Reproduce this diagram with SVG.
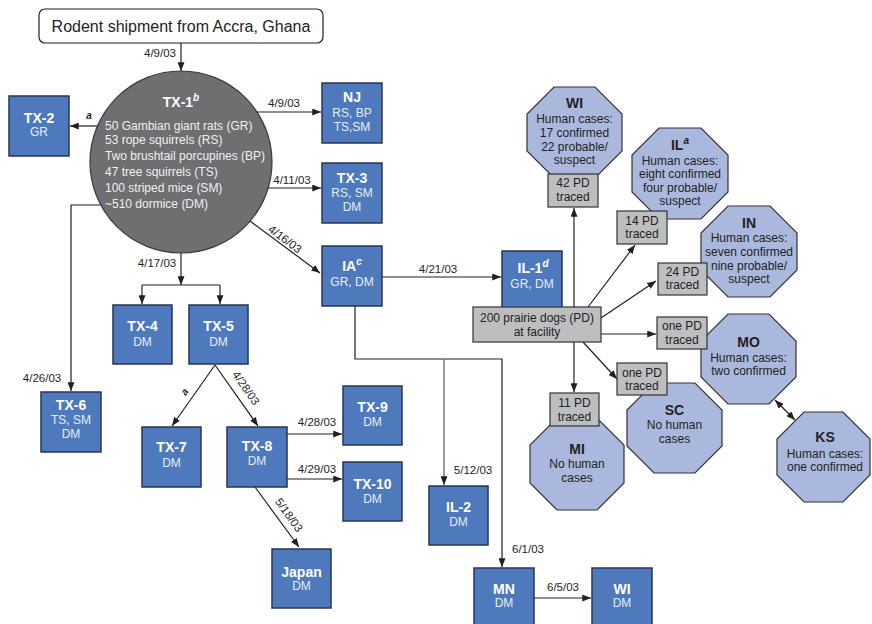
<svg xmlns="http://www.w3.org/2000/svg" width="872" height="624" viewBox="0 0 872 624">
<defs>
<marker id="arr" viewBox="0 0 10 8" refX="10" refY="4" markerWidth="9" markerHeight="7" markerUnits="userSpaceOnUse" orient="auto-start-reverse">
<path d="M0,0 L10,4 L0,8 z" fill="#231f20"/>
</marker>
<style>
text{font-family:"Liberation Sans",Arial,sans-serif;}
.ln{fill:none;stroke:#231f20;stroke-width:1.2;}
.lg{fill:none;stroke:#707070;stroke-width:1.4;}
.ar{marker-end:url(#arr);}
.box{fill:#4e7abd;stroke:#2a3550;stroke-width:1.5;}
.oct{fill:#aab8de;stroke:#333;stroke-width:1.2;}
.gbox{fill:#bcbec0;stroke:#333;stroke-width:1.2;}
.bt{fill:#fff;font-size:14px;font-weight:bold;text-anchor:middle;}
.bs{fill:#e6ecf6;font-size:12px;text-anchor:middle;}
.ot{fill:#231f20;font-size:14px;font-weight:bold;text-anchor:middle;}
.os{fill:#231f20;font-size:12px;text-anchor:middle;}
.dt{fill:#231f20;font-size:11.5px;text-anchor:middle;}
.sup{font-size:10px;font-style:italic;font-weight:bold;}
.cl{fill:#f0f0f0;font-size:12px;}
</style>
</defs>
<rect width="872" height="624" fill="#fff"/>

<g id="connectors">
<path class="ln ar" d="M181,43 V71"/>
<text class="dt" x="160" y="57">4/9/03</text>
<path class="ln ar" d="M100,126 H70"/>
<text class="dt sup" x="89" y="119">a</text>
<path class="ln ar" d="M257,112 H321"/>
<text class="dt" x="284" y="107">4/9/03</text>
<path class="ln ar" d="M268,188 H321"/>
<text class="dt" x="292" y="184">4/11/03</text>
<path class="ln ar" d="M250,221 L320,273"/>
<text class="dt" transform="translate(285,239) rotate(37)" y="4">4/16/03</text>
<path class="ln ar" d="M181,253 V285"/>
<path class="ln" d="M142,285 H220"/>
<path class="ln ar" d="M142,285 V304"/>
<path class="ln ar" d="M220,285 V304"/>
<text class="dt" x="157" y="267">4/17/03</text>
<path class="ln ar" d="M101,205 H71 V391"/>
<text class="dt" x="42" y="382">4/26/03</text>
<path class="ln ar" d="M215,365 L172,426"/>
<text class="dt sup" transform="translate(185,392) rotate(-55)" y="3">a</text>
<path class="ln ar" d="M215,365 L258,426"/>
<text class="dt" transform="translate(246,388) rotate(55)" y="4">4/28/03</text>
<path class="ln ar" d="M287,434 H342"/>
<text class="dt" x="317" y="426">4/28/03</text>
<path class="ln ar" d="M287,479 H342"/>
<text class="dt" x="317" y="473">4/29/03</text>
<path class="ln ar" d="M255,487 L299,547"/>
<text class="dt" transform="translate(289,515) rotate(54)" y="4">5/18/03</text>
<path class="ln ar" d="M382,277 H501"/>
<text class="dt" x="438" y="273">4/21/03</text>
<path class="ln ar" d="M355,306 V359 H502 V567"/>
<path class="lg ar" d="M444,359 V485"/>
<text class="dt" x="473" y="474">5/12/03</text>
<path class="ln ar" d="M534,598 H591"/>
<text class="dt" x="528" y="553">6/1/03</text>
<text class="dt" x="563" y="591">6/5/03</text>
<path class="ln ar" d="M574,307 V208"/>
<path class="ln ar" d="M588,307 L635,245"/>
<path class="ln ar" d="M601,318 L656,281"/>
<path class="ln ar" d="M601,334 H656"/>
<path class="ln ar" d="M583,342 L617,379"/>
<path class="ln ar" d="M574,342 V392"/>
<path class="ln" d="M775,400 L795,420" marker-start="url(#arr)" marker-end="url(#arr)"/>
</g>

<g id="source">
<rect x="39" y="9" width="284" height="34" rx="6" fill="#fff" stroke="#231f20" stroke-width="1.2"/>
<text x="181" y="32" font-size="16" fill="#231f20" text-anchor="middle">Rodent shipment from Accra, Ghana</text>
</g>

<g id="TX-1">
<circle cx="181" cy="162" r="91" fill="#6d6f71" stroke="#3a3a3a" stroke-width="1.2"/>
<text class="bt" x="181" y="107">TX-1<tspan class="sup" dy="-6">b</tspan></text>
<text class="cl" x="105" y="130">50 Gambian giant rats (GR)</text>
<text class="cl" x="105" y="144">53 rope squirrels (RS)</text>
<text class="cl" x="105" y="160">Two brushtail porcupines (BP)</text>
<text class="cl" x="105" y="176">47 tree squirrels (TS)</text>
<text class="cl" x="105" y="192">100 striped mice (SM)</text>
<text class="cl" x="105" y="208">~510 dormice (DM)</text>
</g>

<g id="TX-2"><rect class="box" x="9" y="96" width="60" height="60"/>
<text class="bt" x="39" y="123">TX-2</text><text class="bs" x="39" y="136">GR</text></g>
<g id="NJ"><rect class="box" x="322" y="83" width="60" height="60"/>
<text class="bt" x="352" y="102">NJ</text><text class="bs" x="352" y="117">RS, BP</text><text class="bs" x="352" y="131">TS,SM</text></g>
<g id="TX-3"><rect class="box" x="322" y="163" width="60" height="60"/>
<text class="bt" x="352" y="183">TX-3</text><text class="bs" x="352" y="197">RS, SM</text><text class="bs" x="352" y="211">DM</text></g>
<g id="IA"><rect class="box" x="322" y="246" width="60" height="60"/>
<text class="bt" x="352" y="271">IA<tspan class="sup" dy="-6">c</tspan></text><text class="bs" x="352" y="286">GR, DM</text></g>
<g id="IL-1"><rect class="box" x="502" y="251" width="60" height="60"/>
<text class="bt" x="533" y="273">IL-1<tspan class="sup" dy="-6">d</tspan></text><text class="bs" x="532" y="288">GR, DM</text></g>
<g id="TX-4"><rect class="box" x="113" y="305" width="59" height="59"/>
<text class="bt" x="142.5" y="331">TX-4</text><text class="bs" x="142.5" y="346">DM</text></g>
<g id="TX-5"><rect class="box" x="189" y="305" width="59" height="59"/>
<text class="bt" x="218.5" y="331">TX-5</text><text class="bs" x="218.5" y="346">DM</text></g>
<g id="TX-6"><rect class="box" x="41" y="392" width="60" height="60"/>
<text class="bt" x="71" y="410">TX-6</text><text class="bs" x="71" y="424">TS, SM</text><text class="bs" x="71" y="438">DM</text></g>
<g id="TX-7"><rect class="box" x="142" y="427" width="59" height="60"/>
<text class="bt" x="171.5" y="452">TX-7</text><text class="bs" x="171.5" y="467">DM</text></g>
<g id="TX-8"><rect class="box" x="227" y="427" width="60" height="60"/>
<text class="bt" x="257" y="451">TX-8</text><text class="bs" x="257" y="465">DM</text></g>
<g id="TX-9"><rect class="box" x="343" y="386" width="59" height="59"/>
<text class="bt" x="372.5" y="412">TX-9</text><text class="bs" x="372.5" y="426">DM</text></g>
<g id="TX-10"><rect class="box" x="343" y="462" width="59" height="59"/>
<text class="bt" x="372.5" y="489">TX-10</text><text class="bs" x="372.5" y="503">DM</text></g>
<g id="Japan"><rect class="box" x="272" y="549" width="59" height="59"/>
<text class="bt" x="301.5" y="577">Japan</text><text class="bs" x="301.5" y="590">DM</text></g>
<g id="IL-2"><rect class="box" x="429" y="486" width="59" height="59"/>
<text class="bt" x="458.5" y="512">IL-2</text><text class="bs" x="458.5" y="526">DM</text></g>
<g id="MN"><rect class="box" x="474" y="568" width="60" height="60"/>
<text class="bt" x="504" y="594">MN</text><text class="bs" x="504" y="607">DM</text></g>
<g id="WI-DM"><rect class="box" x="592" y="568" width="60" height="60"/>
<text class="bt" x="622" y="594">WI</text><text class="bs" x="622" y="607">DM</text></g>

<g id="PD-facility"><rect class="gbox" x="473" y="307" width="128" height="35"/>
<text class="os" x="537" y="322">200 prairie dogs (PD)</text><text class="os" x="537" y="336">at facility</text></g>

<g id="WI-cases">
<polygon class="oct" points="554,87 595,87 622,114 622,151 595,178 554,178 527,151 527,114"/>
<text class="ot" x="574.5" y="108">WI</text>
<text class="os" x="574.5" y="123">Human cases:</text>
<text class="os" x="574.5" y="137">17 confirmed</text>
<text class="os" x="574.5" y="151">22 probable/</text>
<text class="os" x="574.5" y="164">suspect</text>
<rect class="gbox" x="548" y="174" width="50" height="33"/>
<text class="os" x="573" y="187">42 PD</text><text class="os" x="573" y="201">traced</text>
</g>
<g id="IL-cases">
<polygon class="oct" points="659,128 701,128 728,155 728,192 701,219 659,219 632,192 632,155"/>
<text class="ot" x="680" y="150">IL<tspan class="sup" dy="-6">a</tspan></text>
<text class="os" x="680" y="165">Human cases:</text>
<text class="os" x="680" y="178">eight confirmed</text>
<text class="os" x="680" y="192">four probable/</text>
<text class="os" x="680" y="205">suspect</text>
<rect class="gbox" x="617" y="211" width="50" height="33"/>
<text class="os" x="642" y="225">14 PD</text><text class="os" x="642" y="238">traced</text>
</g>
<g id="IN-cases">
<polygon class="oct" points="728,206 770,206 797,233 797,270 770,297 728,297 701,270 701,233"/>
<text class="ot" x="749" y="228">IN</text>
<text class="os" x="749" y="242">Human cases:</text>
<text class="os" x="749" y="256">seven confirmed</text>
<text class="os" x="749" y="270">nine probable/</text>
<text class="os" x="749" y="283">suspect</text>
<rect class="gbox" x="658" y="263" width="49" height="32"/>
<text class="os" x="682.5" y="276">24 PD</text><text class="os" x="682.5" y="289">traced</text>
</g>
<g id="MO-cases">
<polygon class="oct" points="728,314 769,314 796,341 796,377 769,404 728,404 701,377 701,341"/>
<text class="ot" x="748.5" y="347">MO</text>
<text class="os" x="748.5" y="362">Human cases:</text>
<text class="os" x="748.5" y="375">two confirmed</text>
<rect class="gbox" x="657" y="317" width="50" height="32"/>
<text class="os" x="682" y="330">one PD</text><text class="os" x="682" y="344">traced</text>
</g>
<g id="SC-cases">
<polygon class="oct" points="654,383 695,383 722,410 722,446 695,473 654,473 627,446 627,410"/>
<text class="ot" x="674.5" y="415">SC</text>
<text class="os" x="674.5" y="429">No human</text>
<text class="os" x="674.5" y="443">cases</text>
<rect class="gbox" x="617" y="363" width="50" height="32"/>
<text class="os" x="642" y="377">one PD</text><text class="os" x="642" y="390">traced</text>
</g>
<g id="MI-cases">
<polygon class="oct" points="557,418 597,418 624,445 624,483 597,510 557,510 530,483 530,445"/>
<text class="ot" x="577" y="454">MI</text>
<text class="os" x="577" y="468">No human</text>
<text class="os" x="577" y="482">cases</text>
<rect class="gbox" x="550" y="393" width="49" height="33"/>
<text class="os" x="574.5" y="407">11 PD</text><text class="os" x="574.5" y="421">traced</text>
</g>
<g id="KS-cases">
<polygon class="oct" points="804,412 843,412 870,439 870,475 843,502 804,502 777,475 777,439"/>
<text class="ot" x="825" y="442">KS</text>
<text class="os" x="825" y="458">Human cases:</text>
<text class="os" x="825" y="471">one confirmed</text>
</g>
</svg>
